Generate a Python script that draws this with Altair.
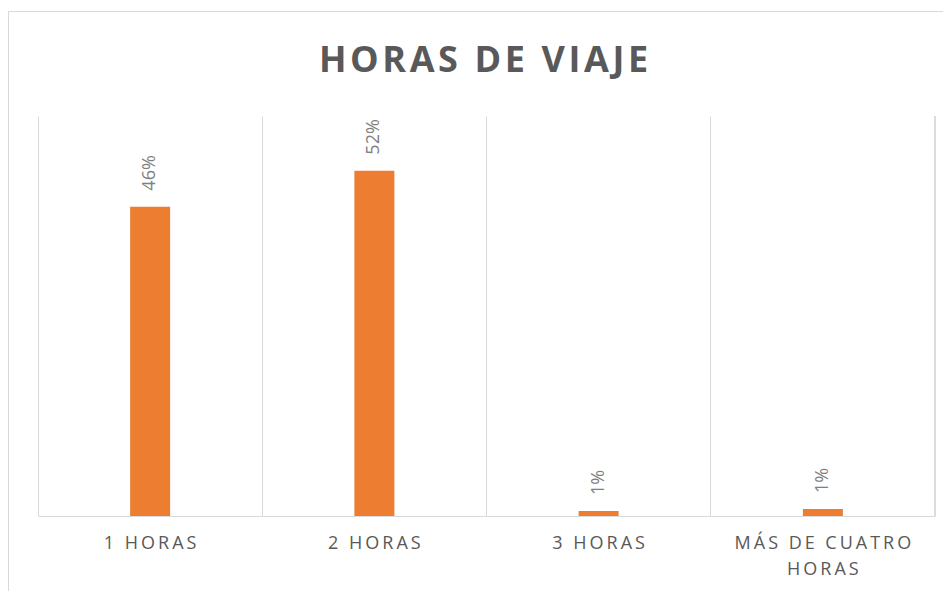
import altair as alt
import pandas as pd

categories = ["1 HORAS", "2 HORAS", "3 HORAS", "MÁS DE CUATRO HORAS"]
values = [0.464, 0.518, 0.0075, 0.0105]
labels = ["46%", "52%", "1%", "1%"]
title_text = "HORAS DE VIAJE"

def spaced(s, sp):
    return sp.join(s)

TS = "\u2009"
disp = [spaced(c, TS) for c in categories]
disp[3] = spaced("MÁS DE CUATRO", TS) + "~" + spaced("HORAS", TS)

df = pd.DataFrame({"cat": disp, "value": values, "label": labels})

W, H = 897, 400
FONT = "Open Sans"

base = alt.Chart(df)

x = alt.X("cat:N", sort=disp, title=None,
          scale=alt.Scale(paddingInner=0, paddingOuter=0),
          axis=alt.Axis(bandPosition=0, grid=True, gridColor="#d9d9d9", gridWidth=1,
                        domainColor="#d9d9d9", domainWidth=1, ticks=False,
                        labelAngle=0, labelFont=FONT, labelFontSize=18, labelColor="#595959",
                        labelPadding=18, labelLineHeight=26, labelBaseline="top",
                        labelExpr="split(datum.label, '~')"))
y = alt.Y("value:Q", scale=alt.Scale(domain=[0, 0.6]), axis=None)

bars = base.mark_bar(color="#ED7D31", size=40).encode(x=x, y=y)
text = base.mark_text(angle=270, align="left", baseline="middle", dx=16,
                      font=FONT, fontSize=18, color="#7f7f7f").encode(
    x=alt.X("cat:N", sort=disp), y="value:Q", text="label:N")

right_edge = base.mark_rule(color="#d9d9d9", strokeWidth=1).encode(
    x=alt.value(W), y=alt.value(0), y2=alt.value(H))
frame_left = base.mark_rule(color="#d9d9d9", strokeWidth=1).encode(
    x=alt.value(-29.5), y=alt.value(-105), y2=alt.value(H + 80))
frame_top = base.mark_rule(color="#d9d9d9", strokeWidth=1).encode(
    x=alt.value(-29.5), x2=alt.value(W + 40), y=alt.value(-104.5))

title = alt.Chart(pd.DataFrame({"t": [spaced(title_text, "\u200a")]})).mark_text(
    font=FONT, fontSize=36, fontWeight="bold", color="#595959",
    align="center", baseline="alphabetic").encode(
    x=alt.value(W / 2 - 3), y=alt.value(-44), text="t:N")

chart = alt.layer(frame_left, frame_top, right_edge, bars, text, title).properties(
    width=W, height=H,
    autosize="none",
    padding={"left": 30, "top": 108, "right": 8, "bottom": 75},
).configure_view(stroke=None)

chart.save("out.html", embed_options={"renderer": "svg", "actions": False})
